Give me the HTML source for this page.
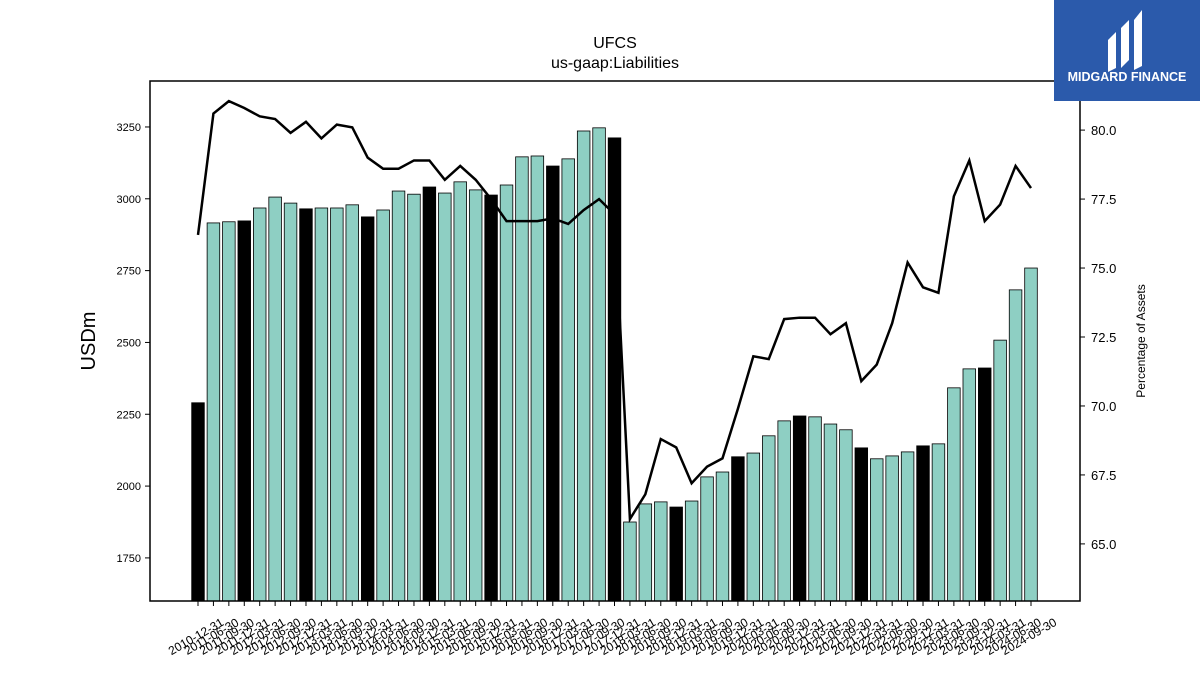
<!DOCTYPE html>
<html><head><meta charset="utf-8"><style>body{margin:0;background:#fff}svg{display:block;font-family:"Liberation Sans","DejaVu Sans",sans-serif}</style></head>
<body>
<svg id="chart" width="1200" height="675">
<text x="615" y="48" text-anchor="middle" font-size="16">UFCS</text>
<text x="615" y="68" text-anchor="middle" font-size="16">us-gaap:Liabilities</text>
<g id="bars"></g>
<g id="line"></g>
<rect x="150" y="81" width="930" height="520" fill="none" stroke="#000" stroke-width="1.5"/>
<g id="axes"></g>
<text transform="translate(95,341) rotate(-90)" text-anchor="middle" font-size="20">USDm</text>
<text transform="translate(1145,341) rotate(-90)" text-anchor="middle" font-size="12">Percentage of Assets</text>
<rect x="1054" y="0" width="146" height="101" fill="#2b5aab"/>
<g fill="#fff">
<path d="M1108 40 l8 -8 v36 l-8 4z"/><path d="M1121 28 l8 -8 v40 l-8 8z"/><path d="M1134 20 l8 -10 v56 l-8 4z"/>
</g>
<text x="1127" y="81" text-anchor="middle" fill="#fff" font-size="12.5" font-weight="bold">MIDGARD FINANCE</text>
</svg>
<script>
const values=[2290,2916,2920,2923,2968,3006,2985,2965,2968,2968,2979,2937,2961,3027,3016,3041,3020,3059,3031,3013,3048,3146,3149,3114,3139,3236,3247,3212,1875,1938,1945,1927,1948,2032,2049,2102,2115,2175,2227,2244,2241,2216,2196,2133,2095,2105,2119,2140,2147,2342,2408,2411,2508,2683,2759];
const pct=[76.2,80.6,81.05,80.8,80.5,80.4,79.9,80.3,79.7,80.2,80.1,79.0,78.6,78.6,78.9,78.9,78.2,78.7,78.2,77.5,76.7,76.7,76.7,76.8,76.6,77.1,77.5,76.95,65.9,66.8,68.8,68.5,67.2,67.8,68.1,69.9,71.8,71.7,73.15,73.2,73.2,72.6,73.0,70.9,71.5,73.0,75.2,74.3,74.1,77.6,78.9,76.7,77.3,78.7,77.9];
const leftTicks=[1750,2000,2250,2500,2750,3000,3250];
const rightTicks=[65.0,67.5,70.0,72.5,75.0,77.5,80.0];
const dates=["2010-12-31"];
(function(){let y=2011,m=6;while(dates.length<values.length){dates.push(y+"-"+["03-31","06-30","09-30","12-31"][m/3-1]);m+=3;if(m>12){m=3;y++;}}})();
const NS="http://www.w3.org/2000/svg";
const yL=v=>601-(v-1600)/(3410-1600)*520;
const yR=v=>601-(v-62.93)/(81.78-62.93)*520;
const xB=i=>198+i*(1031-198)/(values.length-1);
function mk(t,a,p){const e=document.createElementNS(NS,t);for(const k in a)e.setAttribute(k,a[k]);p.appendChild(e);return e;}
const bars=document.getElementById('bars'),axes=document.getElementById('axes'),line=document.getElementById('line');
const bw=12.6;
values.forEach((v,i)=>{
  const black=dates[i].endsWith("12-31");
  const r=mk('rect',{x:xB(i)-bw/2,y:yL(v),width:bw,height:601-yL(v),fill:black?'#000':'#8ecfc3',stroke:'#000','stroke-width':0.8},bars);
  
  
  const t=mk('line',{x1:xB(i),x2:xB(i),y1:601,y2:606,stroke:'#000'},axes);
  
  
  const l=mk('text',{transform:`translate(${xB(i)},${640}) rotate(-30)`,'text-anchor':'middle','font-size':12},axes);
  l.textContent=dates[i];
  
  
});
const p=mk('polyline',{points:pct.map((v,i)=>xB(i)+','+yR(v)).join(' '),fill:'none',stroke:'#000','stroke-width':2.5},line);


leftTicks.forEach(v=>{
  const t=mk('line',{x1:145,x2:150,y1:yL(v),y2:yL(v),stroke:'#000'},axes);
  
  
  const l=mk('text',{x:141,y:yL(v)+4,'text-anchor':'end','font-size':11},axes);
  l.textContent=v;
  
  
});
rightTicks.forEach(v=>{
  const t=mk('line',{x1:1080,x2:1085,y1:yR(v),y2:yR(v),stroke:'#000'},axes);
  
  
  const l=mk('text',{x:1091,y:yR(v)+5,'font-size':13},axes);
  l.textContent=v.toFixed(1);
  
  
});
</script>
</body></html>
